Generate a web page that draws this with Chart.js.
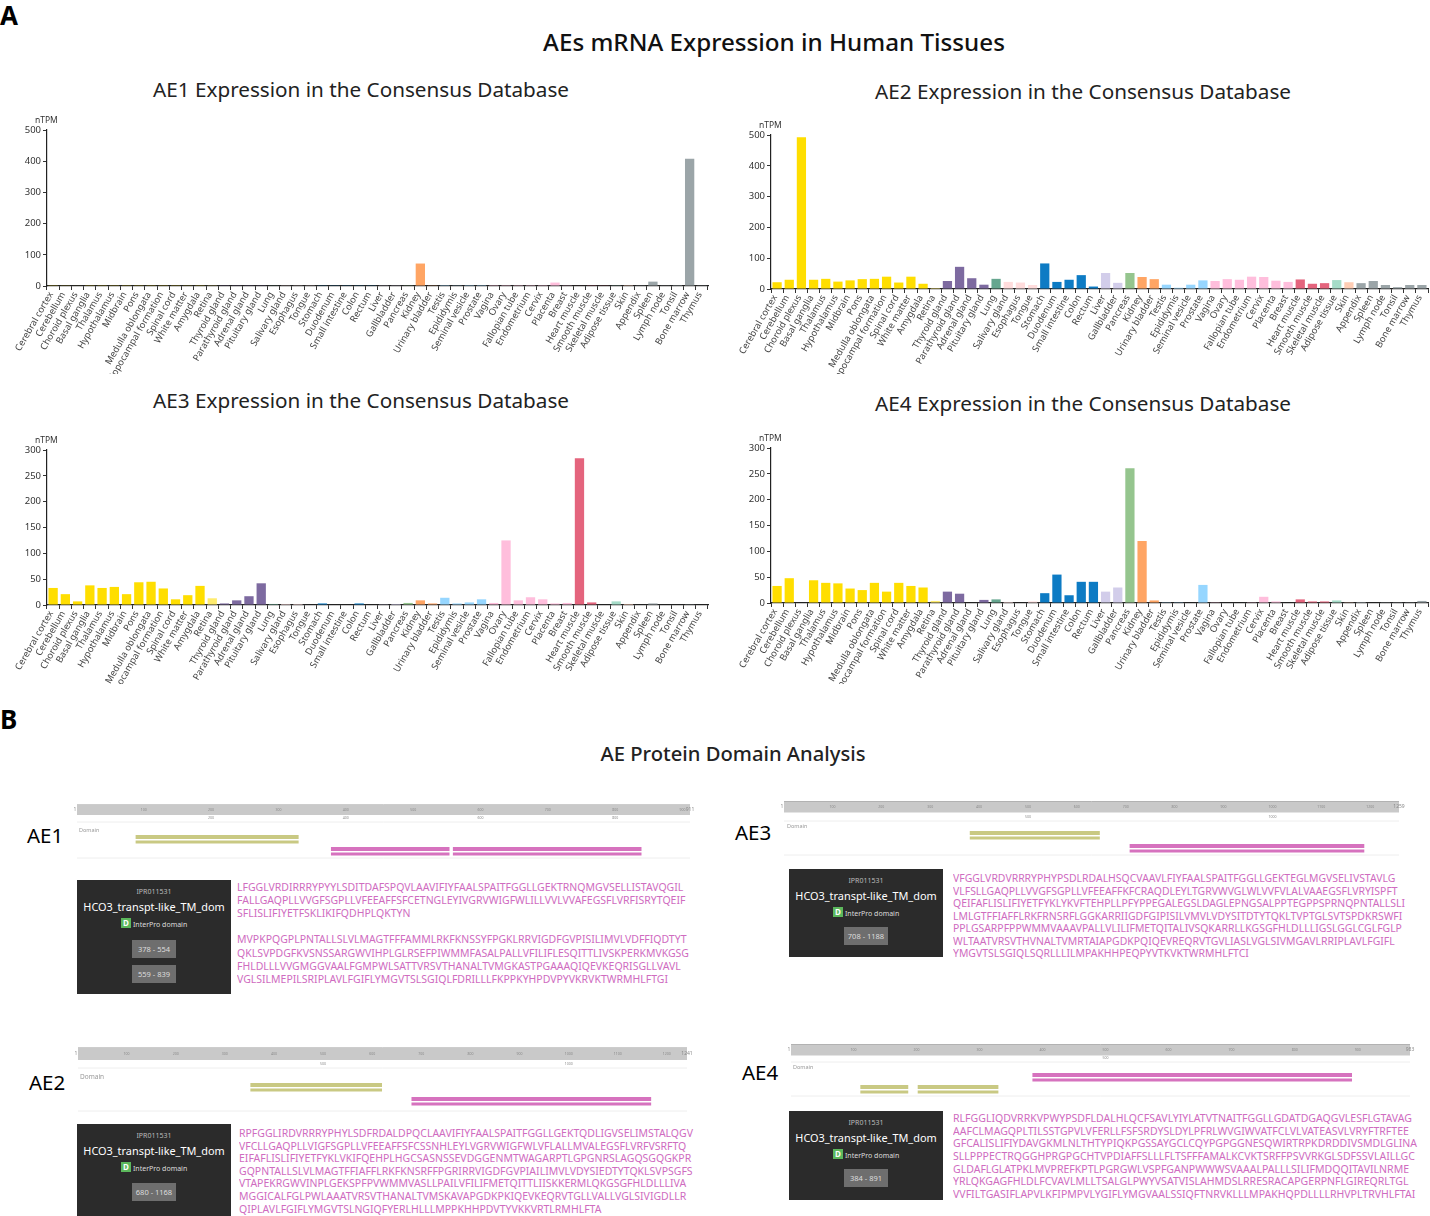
<!DOCTYPE html>
<html>
<head>
<meta charset="utf-8">
<title>AE expression and domains</title>
<script src="https://cdn.jsdelivr.net/npm/chart.js@4"></script>
<style>
  body { margin: 0; background: #fff; width: 1430px; height: 1216px; position: relative; overflow: hidden; font-family: "Noto Sans", "Open Sans", sans-serif; }
  canvas { position: absolute; }
  .t { position: absolute; white-space: nowrap; line-height: 1; }
  .box { position: absolute; background: #2b2b2b; }
  .range { position: absolute; background: #6e6e6e; color: #ddd; font-size: 7.5px; display: flex; align-items: center; justify-content: center; }
  .seq { position: absolute; white-space: nowrap; color: #cf6cbf; font-size: 11.5px; line-height: 1; transform-origin: 0 50%; }
</style>
</head>
<body>
<script>
const tissues = ["Cerebral cortex","Cerebellum","Choroid plexus","Basal ganglia","Thalamus","Hypothalamus","Midbrain","Pons","Medulla oblongata","Hippocampal formation","Spinal cord","White matter","Amygdala","Retina","Thyroid gland","Parathyroid gland","Adrenal gland","Pituitary gland","Lung","Salivary gland","Esophagus","Tongue","Stomach","Duodenum","Small intestine","Colon","Rectum","Liver","Gallbladder","Pancreas","Kidney","Urinary bladder","Testis","Epididymis","Seminal vesicle","Prostate","Vagina","Ovary","Fallopian tube","Endometrium","Cervix","Placenta","Breast","Heart muscle","Smooth muscle","Skeletal muscle","Adipose tissue","Skin","Appendix","Spleen","Lymph node","Tonsil","Bone marrow","Thymus"];

const ae1Values = [1,2,1.5,1,1,1,1,1,1,1,1,2,1,1,1,1,1,1,2,1,1,1,1,1,1,1,1,1,1,1,72,1,0.5,1,0.5,0.5,0.5,0.5,0.5,0.5,0.5,11,1,1.5,1,2,1,0.5,1,14,1,0.5,408,1];
const ae2Values = [22,30,493,30,33,24,28,32,33,40,21,40,17,3,26,72,35,14,33,23,21,13,83,23,30,45,8,52,20,52,39,32,14,4,14,28,26,32,30,40,39,27,23,31,17,19,29,22,19,26,13,6,13,13];
const ae3Values = [33,21,7,38,33,35,21,44,45,32,11,19,37,13,3,9,17,42,2,2,2,1,3,1,1,3,1,0.5,2,4,9,3,14,3,5,11,4,125,9,15,11,3,4,284,5,1,7,2,1,3,1,1,0.5,1];
const ae4Values = [33,48,0,44,39,38,28,25,39,22,39,33,30,4,22,18,1,6,7,2,1,3,19,55,15,41,41,22,30,261,120,5,0.5,0.5,1,35,0.5,1,1,0.5,12,3,1,7,3,3,5,0.5,2,1,0.5,0.5,0.5,4];

// tissue group colours, same order as tissues
const groupColors = [
  ["#ffde00",13],["#ffec6e",1],["#7d6aa0",4],["#66a68f",1],["#ffdcdc",3],["#0d7bc4",5],["#d2cdea",2],["#95c58e",1],
  ["#ffa564",2],["#96d6ff",4],["#ffbedc",7],["#e4647d",3],["#a5dcc8",1],["#ffcdb4",1],["#9ba5a8",6]
];
const barColors = groupColors.flatMap(g => Array(g[1]).fill(g[0]));

// protein lengths and domain ranges (residues)
const ae1Length = 911, ae2Length = 1241, ae3Length = 1259, ae4Length = 983;
const ae1Olive = [[88,330]], ae1Pink = [[378,554],[559,839]];
const ae2Olive = [[352,620]], ae2Pink = [[680,1168]];
const ae3Olive = [[381,647]], ae3Pink = [[708,1188]];
const ae4Olive = [[111,187],[202,330]], ae4Pink = [[384,891]];

const ae1Seq = [
 "LFGGLVRDIRRRYPYYLSDITDAFSPQVLAAVIFIYFAALSPAITFGGLLGEKTRNQMGVSELLISTAVQGIL",
 "FALLGAQPLLVVGFSGPLLVFEEAFFSFCETNGLEYIVGRVWIGFWLILLVVLVVAFEGSFLVRFISRYTQEIF",
 "SFLISLIFIYETFSKLIKIFQDHPLQKTYN",
 "",
 "MVPKPQGPLPNTALLSLVLMAGTFFFAMMLRKFKNSSYFPGKLRRVIGDFGVPISILIMVLVDFFIQDTYT",
 "QKLSVPDGFKVSNSSARGWVIHPLGLRSEFPIWMMFASALPALLVFILIFLESQITTLIVSKPERKMVKGSG",
 "FHLDLLLVVGMGGVAALFGMPWLSATTVRSVTHANALTVMGKASTPGAAAQIQEVKEQRISGLLVAVL",
 "VGLSILMEPILSRIPLAVLFGIFLYMGVTSLSGIQLFDRILLLFKPPKYHPDVPYVKRVKTWRMHLFTGI"
];
const ae2Seq = [
 "RPFGGLIRDVRRRYPHYLSDFRDALDPQCLAAVIFIYFAALSPAITFGGLLGEKTQDLIGVSELIMSTALQGV",
 "VFCLLGAQPLLVIGFSGPLLVFEEAFFSFCSSNHLEYLVGRVWIGFWLVFLALLMVALEGSFLVRFVSRFTQ",
 "EIFAFLISLIFIYETFYKLVKIFQEHPLHGCSASNSSEVDGGENMTWAGARPTLGPGNRSLAGQSGQGKPR",
 "GQPNTALLSLVLMAGTFFIAFFLRKFKNSRFFPGRIRRVIGDFGVPIAILIMVLVDYSIEDTYTQKLSVPSGFS",
 "VTAPEKRGWVINPLGEKSPFPVWMMVASLLPAILVFILIFMETQITTLIISKKERMLQKGSGFHLDLLLIVA",
 "MGGICALFGLPWLAAATVRSVTHANALTVMSKAVAPGDKPKIQEVKEQRVTGLLVALLVGLSIVIGDLLR",
 "QIPLAVLFGIFLYMGVTSLNGIQFYERLHLLLMPPKHHPDVTYVKKVRTLRMHLFTA"
];
const ae3Seq = [
 "VFGGLVRDVRRRYPHYPSDLRDALHSQCVAAVLFIYFAALSPAITFGGLLGEKTEGLMGVSELIVSTAVLG",
 "VLFSLLGAQPLLVVGFSGPLLVFEEAFFKFCRAQDLEYLTGRVWVGLWLVVFVLALVAAEGSFLVRYISPFT",
 "QEIFAFLISLIFIYETFYKLYKVFTEHPLLPFYPPEGALEGSLDAGLEPNGSALPPTEGPPSPRNQPNTALLSLI",
 "LMLGTFFIAFFLRKFRNSRFLGGKARRIIGDFGIPISILVMVLVDYSITDTYTQKLTVPTGLSVTSPDKRSWFI",
 "PPLGSARPFPPWMMVAAAVPALLVLILIFMETQITALIVSQKARRLLKGSGFHLDLLLIGSLGGLCGLFGLP",
 "WLTAATVRSVTHVNALTVMRTAIAPGDKPQIQEVREQRVTGVLIASLVGLSIVMGAVLRRIPLAVLFGIFL",
 "YMGVTSLSGIQLSQRLLLILMPAKHHPEQPYVTKVKTWRMHLFTCI"
];
const ae4Seq = [
 "RLFGGLIQDVRRKVPWYPSDFLDALHLQCFSAVLYIYLATVTNAITFGGLLGDATDGAQGVLESFLGTAVAG",
 "AAFCLMAGQPLTILSSTGPVLVFERLLFSFSRDYSLDYLPFRLWVGIWVATFCLVLVATEASVLVRYFTRFTEE",
 "GFCALISLIFIYDAVGKMLNLTHTYPIQKPGSSAYGCLCQYPGPGGNESQWIRTRPKDRDDIVSMDLGLINA",
 "SLLPPPECTRQGGHPRGPGCHTVPDIAFFSLLLFLTSFFFAMALKCVKTSRFFPSVVRKGLSDFSSVLAILLGC",
 "GLDAFLGLATPKLMVPREFKPTLPGRGWLVSPFGANPWWWSVAAALPALLLSILIFMDQQITAVILNRME",
 "YRLQKGAGFHLDLFCVAVLMLLTSALGLPWYVSATVISLAHMDSLRRESRACAPGERPNFLGIREQRLTGL",
 "VVFILTGASIFLAPVLKFIPMPVLYGIFLYMGVAALSSIQFTNRVKLLLMPAKHQPDLLLLRHVPLTRVHLFTAI"
];

function txt(s, x, y, size, opts = {}) {
  const d = document.createElement("div");
  d.className = "t";
  d.textContent = s;
  d.style.left = x + "px";
  d.style.top = y + "px";
  d.style.fontSize = size + "px";
  d.style.color = opts.color || "#111";
  if (opts.weight) d.style.fontWeight = opts.weight;
  if (opts.center) d.style.transform = "translate(-50%,-50%)";
  else d.style.transform = "translateY(-50%)";
  document.body.appendChild(d);
  return d;
}

function addCanvas(x, y, w, h) {
  const c = document.createElement("canvas");
  c.width = w; c.height = h;
  c.style.left = x + "px"; c.style.top = y + "px";
  c.style.width = w + "px"; c.style.height = h + "px";
  document.body.appendChild(c);
  return c;
}

// expression bar chart; axisX/top/bottom/right are where the axes sit on the page
function barChart(values, yMax, step, axisX, top, bottom, right, clipY) {
  const padTop = 8;
  const c = addCanvas(axisX - 46, top - padTop, right - axisX + 50, clipY - top + padTop);
  new Chart(c, {
    type: "bar",
    data: { labels: tissues, datasets: [{ data: values, backgroundColor: barColors, barPercentage: 0.76, categoryPercentage: 1 }] },
    options: {
      responsive: false,
      animation: false,
      layout: { padding: { top: padTop, right: 4, left: 0, bottom: 0 } },
      plugins: { legend: { display: false }, tooltip: { enabled: false } },
      scales: {
        x: {
          grid: { drawOnChartArea: false, color: "#333", tickLength: 4 },
          border: { color: "#222", width: 1.2 },
          afterFit: s => { s.height = clipY - bottom; },
          ticks: { autoSkip: false, minRotation: 60, maxRotation: 60, padding: 0, labelOffset: -2, color: "#444", font: { size: 9.3, family: "Noto Sans" } }
        },
        y: {
          min: 0, max: yMax,
          grid: { drawOnChartArea: false, color: "#333", tickLength: 4 },
          border: { color: "#222", width: 1.2 },
          afterFit: s => { s.width = 46; },
          ticks: { stepSize: step, padding: 2, color: "#333", font: { size: 9.5, family: "Noto Sans" } }
        }
      }
    }
  });
  txt("nTPM", axisX - 12, top - 10, 8.5, { color: "#333" });
}

// ruler tick text inside the domain track
const rulerText = {
  id: "rulerText",
  afterDatasetsDraw(chart, args, o) {
    const { ctx, scales: { x, y } } = chart;
    ctx.save();
    ctx.fillStyle = "#8a8a8a";
    ctx.textAlign = "center";
    ctx.textBaseline = "middle";
    ctx.font = '3.5px "Noto Sans"';
    for (let v = o.step; v < o.length; v += o.step) ctx.fillText(v, x.getPixelForValue(v), y.getPixelForValue(o.rulerRow));
    for (let v = o.bigStep; v < o.length; v += o.bigStep) ctx.fillText(v, x.getPixelForValue(v), y.getPixelForValue(o.labelRow));
    ctx.font = '5px "Noto Sans"';
    ctx.fillText(o.length, x.getPixelForValue(o.length), y.getPixelForValue(o.rulerRow));
    ctx.fillText(1, x.getPixelForValue(1) - 2, y.getPixelForValue(o.rulerRow));
    ctx.restore();
  }
};

// domain track: y levels are in rows below the top of the track
function trackChart(p) {
  const pad = 12;
  const h = p.height;
  const c = addCanvas(p.x0 - pad, p.y0, p.x1 - p.x0 + pad * 2, h);
  const line = (ranges, row, color, width, cap) => ranges.map(r => ({
    data: [{ x: r[0], y: row }, { x: r[1], y: row }],
    borderColor: color, borderWidth: width, borderCapStyle: cap || "butt", showLine: true, pointRadius: 0, clip: false
  }));
  const whole = [[1, p.length]];
  const datasets = [
    ...line(whole, p.rulerRow, "#c9c9c9", p.rulerWidth),
    ...line(whole, p.rulerRow - p.rulerWidth / 2, "#9a9a9a", 1),
    ...line(whole, p.sepTop, "#eeeeee", 1),
    ...line(whole, p.sepBottom, "#eeeeee", 1),
    ...line(p.olive, p.oliveRow, "#c9c983", 4),
    ...line(p.olive, p.oliveRow + 5, "#c9c983", 3),
    ...line(p.pink, p.pinkRow, "#d672be", 4),
    ...line(p.pink, p.pinkRow + 5, "#d672be", 3)
  ];
  new Chart(c, {
    type: "scatter",
    data: { datasets },
    plugins: [rulerText],
    options: {
      responsive: false,
      animation: false,
      layout: { padding: { left: pad, right: pad, top: 0, bottom: 0 } },
      plugins: {
        legend: { display: false }, tooltip: { enabled: false },
        rulerText: { length: p.length, step: p.step, bigStep: p.bigStep, rulerRow: p.rulerRow, labelRow: p.sepTop - 4 }
      },
      scales: {
        x: { type: "linear", display: false, min: 1, max: p.length },
        y: { type: "linear", display: false, min: 0, max: h, reverse: true }
      }
    }
  });
}

function domainBox(x, y, h, ranges) {
  const b = document.createElement("div");
  b.className = "box";
  b.style.cssText = `left:${x}px;top:${y}px;width:154px;height:${h}px`;
  document.body.appendChild(b);
  const cx = x + 77;
  txt("IPR011531", cx, y + 11, 7, { color: "#bbb", center: true });
  txt("HCO3_transpt-like_TM_dom", cx, y + 27, 10.9, { color: "#fff", center: true });
  const d = document.createElement("div");
  d.className = "t";
  d.textContent = "D";
  d.style.cssText = `left:${x + 44}px;top:${y + 38}px;width:10px;height:10px;background:#5cb85c;color:#fff;font-size:8px;line-height:10px;text-align:center;font-weight:700`;
  document.body.appendChild(d);
  txt("InterPro domain", x + 56, y + 43.5, 7, { color: "#ddd" });
  ranges.forEach(r => {
    const e = document.createElement("div");
    e.className = "range";
    e.textContent = r[0] + " - " + r[1];
    e.style.cssText = `left:${cx - 22}px;top:${y + r[2]}px;width:44px;height:18px`;
    document.body.appendChild(e);
  });
}

function seqBlock(lines, x, y, lineGap, maxWidth) {
  const els = lines.map((s, i) => {
    if (!s) return null;
    const d = document.createElement("div");
    d.className = "seq";
    d.textContent = s;
    d.style.left = x + "px";
    d.style.top = (y + i * lineGap - 6) + "px";
    document.body.appendChild(d);
    return d;
  }).filter(Boolean);
  const widest = Math.max(...els.map(e => e.getBoundingClientRect().width));
  els.forEach(e => { e.style.transform = `scaleX(${maxWidth / widest})`; });
}

function draw() {
  txt("A", 0, 15, 26, { weight: 700, color: "#000" });
  txt("B", 0, 719, 26, { weight: 700, color: "#000" });
  txt("AEs mRNA Expression in Human Tissues", 774, 42, 24.2, { center: true, weight: 500, color: "#111" });
  txt("AE1 Expression in the Consensus Database", 361, 89, 20.7, { center: true, color: "#222" });
  txt("AE2 Expression in the Consensus Database", 1083, 91, 20.7, { center: true, color: "#222" });
  txt("AE3 Expression in the Consensus Database", 361, 400, 20.7, { center: true, color: "#222" });
  txt("AE4 Expression in the Consensus Database", 1083, 403, 20.7, { center: true, color: "#222" });
  txt("AE Protein Domain Analysis", 733, 753, 20.2, { center: true, weight: 500, color: "#222" });

  barChart(ae1Values, 500, 100, 47, 130, 286, 708, 374);
  barChart(ae2Values, 500, 100, 771, 135, 289, 1428, 374);
  barChart(ae3Values, 300, 50, 47, 450, 605, 708, 684);
  barChart(ae4Values, 300, 50, 771, 448, 603, 1428, 684);

  txt("AE1", 27, 835, 20.5, { color: "#000" });
  txt("AE2", 29, 1082, 20.5, { color: "#000" });
  txt("AE3", 735, 832, 20.5, { color: "#000" });
  txt("AE4", 742, 1072, 20.5, { color: "#000" });

  trackChart({ x0: 77, x1: 690, y0: 800, height: 62, length: ae1Length, step: 100, bigStep: 200, rulerWidth: 10, rulerRow: 10, sepTop: 22, sepBottom: 58, oliveRow: 37, pinkRow: 49, olive: ae1Olive, pink: ae1Pink });
  trackChart({ x0: 78, x1: 687, y0: 1042, height: 72, length: ae2Length, step: 100, bigStep: 500, rulerWidth: 12, rulerRow: 12, sepTop: 26, sepBottom: 69, oliveRow: 43, pinkRow: 57, olive: ae2Olive, pink: ae2Pink });
  trackChart({ x0: 784, x1: 1399, y0: 798, height: 60, length: ae3Length, step: 100, bigStep: 500, rulerWidth: 11, rulerRow: 9, sepTop: 23, sepBottom: 57, oliveRow: 35, pinkRow: 48, olive: ae3Olive, pink: ae3Pink });
  trackChart({ x0: 791, x1: 1410, y0: 1040, height: 60, length: ae4Length, step: 100, bigStep: 500, rulerWidth: 11, rulerRow: 10, sepTop: 22, sepBottom: 56, oliveRow: 47, pinkRow: 35, olive: ae4Olive, pink: ae4Pink });

  txt("Domain", 79, 831, 5.5, { color: "#999" });
  txt("Domain", 80, 1077, 6.5, { color: "#999" });
  txt("Domain", 787, 827, 5.5, { color: "#999" });
  txt("Domain", 793, 1068, 5.5, { color: "#999" });

  domainBox(77, 880, 114, [[378, 554, 60], [559, 839, 85]]);
  domainBox(77, 1124, 92, [[680, 1168, 59]]);
  domainBox(789, 869, 88, [[708, 1188, 58]]);
  domainBox(789, 1111, 89, [[384, 891, 58]]);

  seqBlock(ae1Seq, 237, 887, 13.1, 452);
  seqBlock(ae2Seq, 239, 1133, 12.6, 454);
  seqBlock(ae3Seq, 953, 878, 12.5, 452);
  seqBlock(ae4Seq, 953, 1118, 12.67, 464);
}

draw();
</script>
</body>
</html>
